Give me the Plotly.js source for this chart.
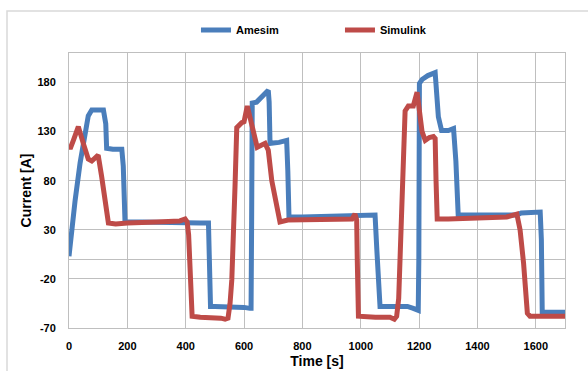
<!DOCTYPE html>
<html>
<head>
<meta charset="utf-8">
<script src="https://cdn.plot.ly/plotly-3.0.1.min.js"></script>
<style>
  html, body { margin: 0; padding: 0; background: #ffffff; }
  #chart { width: 588px; height: 371px; }
</style>
</head>
<body>
<div id="chart"></div>
<script>
// Series names
const seriesNames = ["Amesim", "Simulink"];

// Amesim series (time [s], current [A])
const amesimTime = [0, 9, 21, 38, 55, 66, 78, 100, 118, 126, 129, 150, 181, 186, 192, 250, 300, 350, 400, 450, 478, 481, 485, 500, 550, 600, 620, 624, 626, 628, 643, 660, 683, 686, 689, 720, 746, 750, 754, 800, 900, 1000, 1049, 1055, 1060, 1066, 1100, 1140, 1160, 1180, 1197, 1199, 1201, 1210, 1230, 1255, 1259, 1266, 1277, 1300, 1318, 1326, 1334, 1400, 1500, 1535, 1550, 1615, 1619, 1622, 1700];
const amesimCurrent = [3, 30, 60, 98, 128, 146, 152, 152, 152, 138, 113, 112, 112, 95, 38, 38, 37.5, 38, 37.5, 37, 37, 0, -48, -48, -48, -49, -50, -50, 40, 159, 160, 165, 172, 160, 118, 119, 121, 90, 43, 43, 43.5, 44, 45, 10, -20, -48, -48, -48, -48, -50, -52, 0, 179, 183, 187, 190, 170, 145, 131, 131, 133, 100, 45, 45, 45, 45, 47, 48, 20, -54, -54];

// Simulink series (time [s], current [A])
const simulinkTime = [0, 6, 15, 32, 49, 66, 78, 95, 100, 112, 123, 135, 160, 200, 300, 380, 398, 405, 410, 414, 418, 422, 450, 500, 520, 535, 545, 552, 558, 569, 575, 592, 600, 611, 626, 645, 672, 683, 695, 712, 723, 750, 800, 900, 970, 980, 986, 988, 992, 1050, 1100, 1115, 1123, 1130, 1135, 1140, 1146, 1152, 1163, 1180, 1193, 1200, 1210, 1221, 1235, 1249, 1255, 1258, 1262, 1300, 1400, 1500, 1535, 1546, 1558, 1566, 1571, 1580, 1700];
const simulinkCurrent = [114, 114, 121, 135, 118, 102, 100, 106, 106, 84, 57, 37, 36, 37, 38, 39, 41, 38, 25, 0, -40, -58, -59, -59, -60, -61, -60, -45, -21, 74, 134, 139, 140, 156, 136, 114, 118, 111, 80, 50, 38, 40, 40, 40, 41, 46, 40, 0, -58, -59, -59, -61, -58, -40, 0, 50, 100, 151, 156, 156, 170, 150, 130, 121, 124, 125, 123, 80, 41, 41, 42, 43, 46, 30, -4, -40, -55, -58, -58];

// Axis ticks
const xTickVals = [0, 200, 400, 600, 800, 1000, 1200, 1400, 1600];
const yTickVals = [-70, -20, 30, 80, 130, 180];

const gridColor = "#bfbfbf";
const tickFont = { family: "Liberation Sans, Arial, sans-serif", size: 11, color: "#000000", weight: "bold" };
const titleFont = { family: "Liberation Sans, Arial, sans-serif", size: 14, color: "#000000", weight: "bold" };

const traces = [
  {
    x: amesimTime, y: amesimCurrent, name: seriesNames[0],
    type: "scatter", mode: "lines",
    line: { color: "#4a7ebb", width: 5 }
  },
  {
    x: simulinkTime, y: simulinkCurrent, name: seriesNames[1],
    type: "scatter", mode: "lines",
    line: { color: "#be4b48", width: 5 }
  }
];

const layout = {
  width: 588, height: 371,
  margin: { l: 69, r: 23, t: 53, b: 43, pad: 0 },
  paper_bgcolor: "#ffffff",
  plot_bgcolor: "#ffffff",
  showlegend: true,
  legend: {
    orientation: "h",
    x: 0.256, xanchor: "left",
    y: 1.084, yanchor: "middle",
    font: { family: "Liberation Sans, Arial, sans-serif", size: 11, color: "#000000", weight: "bold" },
    bgcolor: "rgba(0,0,0,0)",
    itemwidth: 30,
    entrywidth: 99,
    entrywidthmode: "pixels",
    tracegroupgap: 0
  },
  xaxis: {
    range: [0, 1700],
    tickvals: xTickVals,
    ticktext: xTickVals.map(String),
    showgrid: true, gridcolor: gridColor, gridwidth: 1,
    showline: true, linecolor: gridColor, linewidth: 1, mirror: true,
    zeroline: false,
    ticks: "",
    ticklabelstandoff: 8,
    tickfont: tickFont,
    title: { text: "Time [s]", font: titleFont, standoff: 4 }
  },
  yaxis: {
    range: [-70, 210],
    tickvals: yTickVals,
    ticktext: yTickVals.map(String),
    showgrid: true, gridcolor: gridColor, gridwidth: 1,
    showline: true, linecolor: gridColor, linewidth: 1, mirror: true,
    zeroline: true, zerolinecolor: gridColor, zerolinewidth: 1,
    ticks: "",
    ticklabelstandoff: 10,
    tickfont: tickFont,
    title: { text: "Current [A]", font: titleFont, standoff: 2 }
  },
  shapes: [
    {
      type: "rect", xref: "paper", yref: "paper",
      x0: -0.125, x1: 1.2, y0: -0.5, y1: 1.1527,
      line: { color: "#d9d9d9", width: 1.5 },
      fillcolor: "rgba(0,0,0,0)",
      layer: "below"
    }
  ]
};

Plotly.newPlot("chart", traces, layout, { displayModeBar: false, staticPlot: true });
</script>
</body>
</html>
